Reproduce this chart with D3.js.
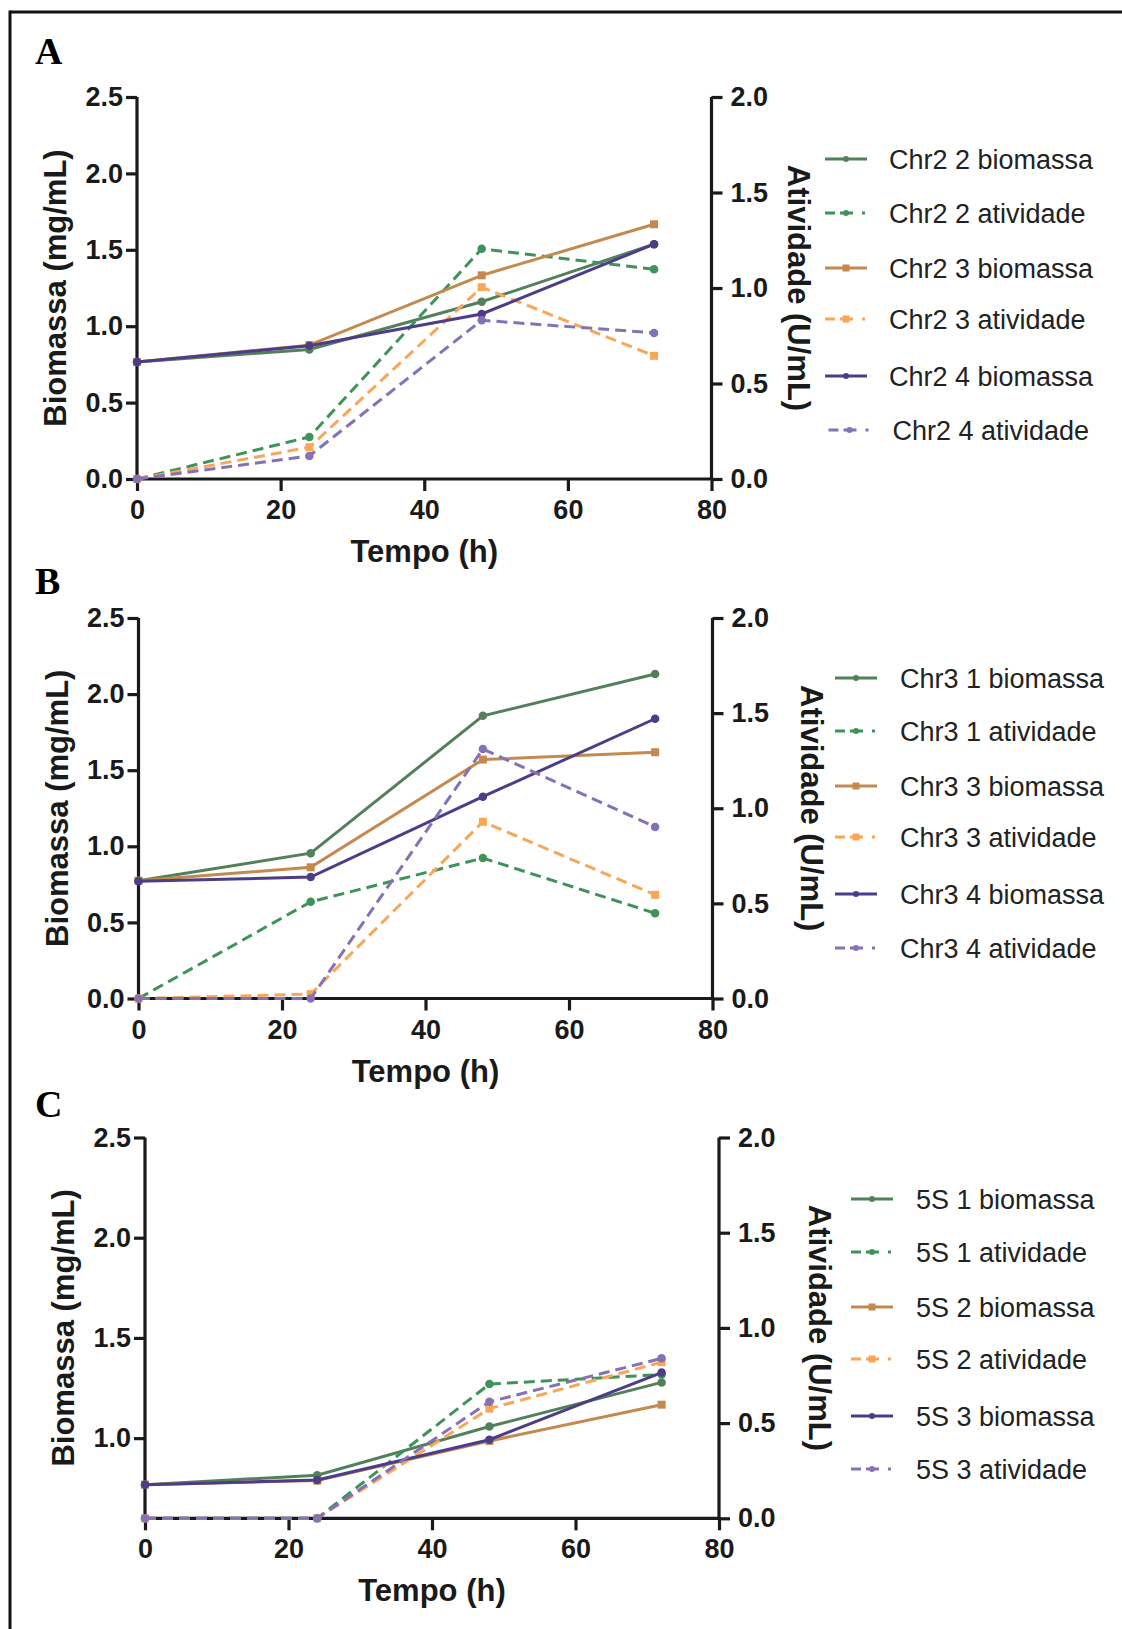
<!DOCTYPE html>
<html>
<head>
<meta charset="utf-8">
<script src="https://cdn.jsdelivr.net/npm/d3@7"></script>
<style>
  html, body { margin: 0; padding: 0; background: #fff; }
  svg { display: block; }
</style>
</head>
<body>
<svg id="chart" width="1122" height="1629"></svg>
<script>
// ---------------- DATA ----------------
const times = [0, 24, 48, 72];
const xTicks = [0, 20, 40, 60, 80];
const leftTicksAB = [0, 0.5, 1.0, 1.5, 2.0, 2.5];
const leftTicksC = [1.0, 1.5, 2.0, 2.5];
const rightTicks = [0, 0.5, 1.0, 1.5, 2.0];

// Panel A
const namesA = ["Chr2 2 biomassa", "Chr2 2 atividade", "Chr2 3 biomassa", "Chr2 3 atividade", "Chr2 4 biomassa", "Chr2 4 atividade"];
const chr2_2_bio = [0.766, 0.848, 1.160, 1.537];
const chr2_2_atv = [0.000, 0.220, 1.205, 1.098];
const chr2_3_bio = [0.766, 0.876, 1.333, 1.667];
const chr2_3_atv = [0.000, 0.166, 1.004, 0.645];
const chr2_4_bio = [0.766, 0.872, 1.080, 1.537];
const chr2_4_atv = [0.000, 0.121, 0.831, 0.765];

// Panel B
const namesB = ["Chr3 1 biomassa", "Chr3 1 atividade", "Chr3 3 biomassa", "Chr3 3 atividade", "Chr3 4 biomassa", "Chr3 4 atividade"];
const chr3_1_bio = [0.774, 0.955, 1.857, 2.132];
const chr3_1_atv = [0.000, 0.508, 0.738, 0.448];
const chr3_3_bio = [0.774, 0.862, 1.570, 1.618];
const chr3_3_atv = [0.000, 0.023, 0.929, 0.545];
const chr3_4_bio = [0.770, 0.798, 1.326, 1.838];
const chr3_4_atv = [0.000, 0.000, 1.311, 0.902];

// Panel C
const namesC = ["5S 1 biomassa", "5S 1 atividade", "5S 2 biomassa", "5S 2 atividade", "5S 3 biomassa", "5S 3 atividade"];
const s5_1_bio = [0.768, 0.815, 1.058, 1.278];
const s5_1_atv = [0.000, 0.000, 0.705, 0.755];
const s5_2_bio = [0.768, 0.788, 0.986, 1.167];
const s5_2_atv = [0.000, 0.000, 0.576, 0.820];
const s5_3_bio = [0.768, 0.791, 0.992, 1.327];
const s5_3_atv = [0.000, 0.000, 0.612, 0.840];

// ---------------- STYLE ----------------
const C_GREEN_S = "#52805b", C_GREEN_D = "#3e9458";
const C_BROWN_S = "#c4894e", C_ORANGE_D = "#f8a658";
const C_PURPLE_S = "#4d3c88", C_LAV_D = "#8471b6";
const styles = [
  {color: C_GREEN_S, dashed: false, marker: "circle", axis: "left"},
  {color: C_GREEN_D, dashed: true, marker: "circle", axis: "right"},
  {color: C_BROWN_S, dashed: false, marker: "square", axis: "left"},
  {color: C_ORANGE_D, dashed: true, marker: "square", axis: "right"},
  {color: C_PURPLE_S, dashed: false, marker: "circle", axis: "left"},
  {color: C_LAV_D, dashed: true, marker: "circle", axis: "right"}
];

const panels = [
  {label: "A", labelY: 64, x0: 137, x1: 711.5, yT: 97, yB: 479,
   leftDomain: [0, 2.5], leftTicks: leftTicksAB, rightTitleDx: 76.5,
   legLineX: 825, legTextX: 889, legRows: [159, 213, 268, 319, 376, 430], legDx: [0, 0, 0, 0, 0, 3.5],
   names: namesA, values: [chr2_2_bio, chr2_2_atv, chr2_3_bio, chr2_3_atv, chr2_4_bio, chr2_4_atv]},
  {label: "B", labelY: 594, x0: 138.5, x1: 712.5, yT: 618, yB: 998.5,
   leftDomain: [0, 2.5], leftTicks: leftTicksAB, rightTitleDx: 88.5,
   legLineX: 835, legTextX: 900, legRows: [678, 731, 786, 837, 894, 948], legDx: [0, 0, 0, 0, 0, 0],
   names: namesB, values: [chr3_1_bio, chr3_1_atv, chr3_3_bio, chr3_3_atv, chr3_4_bio, chr3_4_atv]},
  {label: "C", labelY: 1117, x0: 145, x1: 719, yT: 1137.5, yB: 1518.3,
   leftDomain: [0.6, 2.5], leftTicks: leftTicksC, rightTitleDx: 90,
   legLineX: 851, legTextX: 916, legRows: [1199, 1252, 1307, 1359, 1416, 1469], legDx: [0, 0, 0, 0, 0, 0],
   names: namesC, values: [s5_1_bio, s5_1_atv, s5_2_bio, s5_2_atv, s5_3_bio, s5_3_atv]}
];

const svg = d3.select("#chart");
const SANS = "'Liberation Sans', Arial, Helvetica, sans-serif";
const INK = "#1a1a1a";

// outer frame (top and left edges visible)
svg.append("line").attr("x1", 10).attr("x2", 1122).attr("y1", 12).attr("y2", 12)
  .attr("stroke", "#111").attr("stroke-width", 3);
svg.append("line").attr("x1", 10).attr("x2", 10).attr("y1", 10.5).attr("y2", 1629)
  .attr("stroke", "#111").attr("stroke-width", 3);

function drawMarker(g, type, cx, cy, color, size) {
  if (type === "circle") {
    g.append("circle").attr("cx", cx).attr("cy", cy).attr("r", size / 2).attr("fill", color);
  } else {
    g.append("rect").attr("x", cx - size / 2).attr("y", cy - size / 2)
      .attr("width", size).attr("height", size).attr("fill", color);
  }
}

panels.forEach(p => {
  const g = svg.append("g");
  const x = d3.scaleLinear().domain([0, 80]).range([p.x0, p.x1]);
  const yL = d3.scaleLinear().domain(p.leftDomain).range([p.yB, p.yT]);
  const yR = d3.scaleLinear().domain([0, 2.0]).range([p.yB, p.yT]);

  // panel letter
  g.append("text").attr("x", 35).attr("y", p.labelY)
    .attr("font-family", "'Liberation Serif', 'Times New Roman', serif")
    .attr("font-weight", "bold").attr("font-size", 38).attr("fill", "#000").text(p.label);

  // axes
  const fmt = d3.format(".1f");
  const ax = g.append("g").attr("transform", `translate(0,${p.yB})`)
    .call(d3.axisBottom(x).tickValues(xTicks).tickSize(12).tickPadding(9).tickFormat(d3.format("d")));
  const al = g.append("g").attr("transform", `translate(${p.x0},0)`)
    .call(d3.axisLeft(yL).tickValues(p.leftTicks).tickSize(11).tickPadding(3).tickFormat(fmt));
  const ar = g.append("g").attr("transform", `translate(${p.x1},0)`)
    .call(d3.axisRight(yR).tickValues(rightTicks).tickSize(11).tickPadding(8).tickFormat(fmt));
  [ax, al, ar].forEach(a => {
    a.select(".domain").attr("stroke", INK).attr("stroke-width", 3.2);
    a.selectAll(".tick line").attr("stroke", INK).attr("stroke-width", 3.2);
    a.selectAll(".tick text").attr("font-family", SANS).attr("font-weight", "bold")
      .attr("font-size", 27).attr("fill", INK);
  });
  // make domain paths plain lines (no outer ticks)
  ax.select(".domain").attr("d", `M${p.x0 - 1.6},0H${p.x1 + 1.6}`);
  al.select(".domain").attr("d", `M0,${p.yT}V${p.yB}`);
  ar.select(".domain").attr("d", `M0,${p.yT}V${p.yB}`);

  // axis titles
  g.append("text").attr("x", (p.x0 + p.x1) / 2).attr("y", p.yB + 83)
    .attr("text-anchor", "middle").attr("font-family", SANS).attr("font-weight", "bold")
    .attr("font-size", 31).attr("fill", INK).text("Tempo (h)");
  const cy = (p.yT + p.yB) / 2;
  g.append("text").attr("transform", `translate(${p.x0 - 71},${cy}) rotate(-90)`)
    .attr("text-anchor", "middle").attr("font-family", SANS).attr("font-weight", "bold")
    .attr("font-size", 31).attr("fill", INK).text("Biomassa (mg/mL)");
  g.append("text").attr("transform", `translate(${p.x1 + p.rightTitleDx},${cy}) rotate(90)`)
    .attr("text-anchor", "middle").attr("font-family", SANS).attr("font-weight", "bold")
    .attr("font-size", 31).attr("fill", INK).text("Atividade (U/mL)");

  // series
  p.values.forEach((vals, i) => {
    const st = styles[i];
    const ys = st.axis === "left" ? yL : yR;
    const pts = times.map((t, k) => [x(t), ys(vals[k])]);
    g.append("path").attr("d", d3.line()(pts)).attr("fill", "none")
      .attr("stroke", st.color).attr("stroke-width", 3)
      .attr("stroke-dasharray", st.dashed ? "11,6" : null);
    pts.forEach(pt => drawMarker(g, st.marker, pt[0], pt[1], st.color, st.marker === "square" ? 8 : 8.5));
  });

  // legend
  p.names.forEach((name, i) => {
    const st = styles[i];
    const yy = p.legRows[i];
    const lx = p.legLineX + p.legDx[i];
    g.append("line").attr("x1", lx).attr("x2", lx + 42).attr("y1", yy).attr("y2", yy)
      .attr("stroke", st.color).attr("stroke-width", 3)
      .attr("stroke-dasharray", st.dashed ? "10,5,13,9,3" : null);
    drawMarker(g, st.marker, lx + 21, yy, st.color, st.marker === "square" ? 7 : 6);
    g.append("text").attr("x", p.legTextX + p.legDx[i]).attr("y", yy).attr("dy", "0.36em")
      .attr("font-family", SANS).attr("font-size", 27).attr("fill", "#222").text(name);
  });
});
</script>
</body>
</html>
